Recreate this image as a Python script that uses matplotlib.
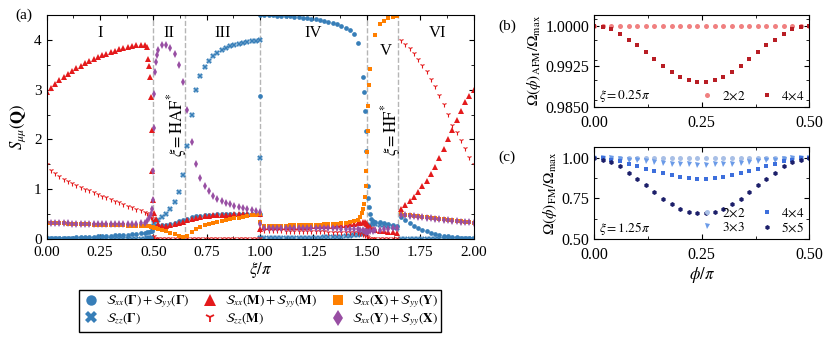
import numpy as np
import matplotlib
matplotlib.use('Agg')
import matplotlib.pyplot as plt
from matplotlib.ticker import MultipleLocator, FormatStrFormatter
from matplotlib.lines import Line2D

plt.rcParams['font.family'] = ['Liberation Serif', 'DejaVu Serif']
plt.rcParams['mathtext.fontset'] = 'stix'
plt.rcParams['font.size'] = 11
plt.rcParams['xtick.direction'] = 'in'
plt.rcParams['ytick.direction'] = 'in'
plt.rcParams['xtick.top'] = True
plt.rcParams['ytick.right'] = True

n = np.nan

# ---- panel (a) data: xi/pi sample points (denser near the transitions)
xi = np.concatenate([
    np.arange(0.0, 0.47, 0.02),
    [0.47, 0.475, 0.48, 0.485, 0.49, 0.493, 0.496, 0.498, 0.50, 0.502, 0.505, 0.508, 0.511, 0.515, 0.52],
    np.arange(0.54, 0.99, 0.02),
    [1.0, 1.0, 1.0],
    np.arange(1.02, 1.47, 0.02),
    [1.47, 1.475, 1.48, 1.485, 1.49, 1.495, 1.498, 1.50, 1.503, 1.507, 1.511, 1.515, 1.52, 1.53],
    np.arange(1.54, 1.65, 0.02),
    np.arange(1.66, 2.001, 0.02),
])

# S_xx(Gamma)+S_yy(Gamma)
s_gam = [0.01, 0.01, 0.01, 0.01, 0.02, 0.02, 0.02, 0.03, 0.03, 0.03, 0.04, 0.04, 0.05, 0.05, 0.06, 0.06,
         0.07, 0.07, 0.08, 0.08, 0.09, 0.10, 0.11, 0.12,
         0.13, n, 0.14, n, 0.15, n, 0.16, n, 0.22, n, 0.25, n, 0.26, n, 0.27,
         0.28, 0.29, 0.31, 0.33, 0.36, 0.39, 0.41, 0.44, 0.46, 0.47, 0.48, 0.49, 0.49, 0.50, 0.50, 0.50,
         0.50, 0.50, 0.50, 0.50, 0.50, 0.50, 0.50,
         0.50, 2.87, 4.50,
         4.50, 4.50, 4.50, 4.49, 4.49, 4.48, 4.48, 4.47, 4.46, 4.45, 4.44, 4.43, 4.42, 4.41, 4.39, 4.37,
         4.35, 4.32, 4.29, 4.25, 4.20, 4.12, 3.94,
         n, n, 3.25, 2.95, 2.58, 2.17, 1.76, n, 1.06, 0.83, 0.65, 0.50, 0.40, 0.36,
         0.35, 0.34, 0.32, 0.30, 0.28, 0.26,
         0.45, 0.38, 0.32, 0.27, 0.22, 0.18, 0.15, 0.12, 0.10, 0.08, 0.06, 0.05, 0.04, 0.03, 0.02, 0.015,
         0.01, 0.01]
# S_zz(Gamma)
s_gam_zz = [0.005, 0.005, 0.005, 0.005, 0.005, 0.005, 0.005, 0.005, 0.005, 0.005, 0.005, 0.005,
            0.005, 0.005, 0.005, 0.005, 0.005, 0.005, 0.005, 0.005, 0.005, 0.005, 0.005, 0.005,
            0.01, n, 0.01, n, 0.02, n, 0.02, n, 0.25, n, 0.33, n, 0.36, n, 0.38,
            0.44, 0.50, 0.60, 0.74, 0.94, 1.29, 1.86, 2.50, 3.00, 3.28, 3.46, 3.58, 3.67, 3.74, 3.79, 3.84,
            3.87, 3.90, 3.93, 3.95, 3.97, 3.98, 3.99,
            4.00, 1.62, 0.01,
            0.01, 0.01, 0.01, 0.01, 0.01, 0.01, 0.01, 0.01, 0.01, 0.02, 0.02, 0.02, 0.02, 0.02, 0.03, 0.03,
            0.03, 0.04, 0.04, 0.05, 0.06, 0.07, 0.08,
            0.09, n, 0.10, n, 0.12, n, n, 0.15, n, 0.22, n, 0.28, n, 0.30,
            0.30, 0.29, 0.28, 0.26, 0.24, 0.22,
            0.005, 0.005, 0.005, 0.005, 0.005, 0.005, 0.005, 0.005, 0.005, 0.005, 0.005, 0.005, 0.005,
            0.005, 0.005, 0.005, 0.005, 0.005]
# S_xx(M)+S_yy(M)
s_m = [2.95, 3.04, 3.12, 3.19, 3.26, 3.32, 3.38, 3.43, 3.48, 3.53, 3.57, 3.61, 3.65, 3.69, 3.72, 3.75,
       3.78, 3.81, 3.84, 3.86, 3.88, 3.90, 3.91, 3.89,
       3.86, 3.62, 3.47, 3.26, 2.86, 2.20, 1.36, n, 0.78, n, 0.52, n, 0.40, n, 0.30,
       0.27, 0.27, 0.28, 0.30, 0.32, 0.35, 0.38, 0.41, 0.43, 0.45, 0.46, 0.47, 0.48, 0.48, 0.49, 0.49,
       0.49, 0.50, 0.50, 0.50, 0.50, 0.50, 0.50,
       0.50, n, 0.20,
       0.24, 0.24, 0.24, 0.24, 0.24, 0.24, 0.25, 0.25, 0.25, 0.25, 0.25, 0.26, 0.26, 0.26, 0.27, 0.27,
       0.27, 0.28, 0.28, 0.29, 0.30, 0.31, 0.32,
       0.33, n, 0.35, n, 0.35, n, 0.32, 0.30, n, 0.27, n, 0.24, n, 0.20,
       0.18, 0.16, 0.15, 0.14, 0.13, 0.12,
       0.60, 0.68, 0.76, 0.85, 0.95, 1.06, 1.17, 1.30, 1.45, 1.62, 1.80, 2.00, 2.20, 2.39, 2.57, 2.75,
       2.87, 3.00]
# S_zz(M)
s_m_zz = [1.50, 1.39, 1.32, 1.26, 1.21, 1.17, 1.13, 1.09, 1.05, 1.01, 0.98, 0.94, 0.91, 0.87, 0.84, 0.80,
          0.77, 0.74, 0.70, 0.67, 0.64, 0.61, 0.58, 0.55,
          0.52, n, 0.48, n, 0.45, n, 0.42, n, 0.38, n, 0.05, n, 0.02, n, 0.01,
          0.01, 0.01, 0.01, 0.01, 0.01, 0.01, 0.01, 0.01, 0.01, 0.01, 0.01, 0.01, 0.01, 0.01, 0.01, 0.01,
          0.01, 0.01, 0.01, 0.01, 0.01, 0.01, 0.01,
          0.01, n, 0.17,
          0.17, 0.17, 0.17, 0.17, 0.17, 0.16, 0.16, 0.16, 0.16, 0.16, 0.15, 0.15, 0.15, 0.15, 0.15, 0.14,
          0.14, 0.14, 0.14, 0.13, 0.13, 0.13, 0.13,
          0.12, n, 0.10, n, 0.08, n, n, 0.05, n, 0.03, n, 0.02, n, 0.02,
          0.02, 0.02, 0.02, 0.02, 0.02, 0.02,
          4.00, 3.92, 3.83, 3.73, 3.62, 3.50, 3.37, 3.22, 3.07, 2.90, 2.72, 2.52, 2.30, 2.15, 1.98, 1.82,
          1.65, 1.50]
# S_xx(X)+S_yy(Y)
s_x = [0.33, 0.33, 0.32, 0.32, 0.32, 0.31, 0.31, 0.31, 0.30, 0.30, 0.30, 0.29, 0.29, 0.29, 0.29, 0.28,
       0.28, 0.28, 0.28, 0.27, 0.27, 0.27, 0.27, 0.26,
       0.26, n, 0.26, n, 0.25, n, 0.25, n, 0.23, n, 0.22, n, 0.21, n, 0.20,
       0.18, 0.15, 0.12, 0.09, 0.06, 0.03, 0.05, 0.13, 0.20, 0.25, 0.28, 0.31, 0.33, 0.35, 0.37, 0.39,
       0.40, 0.42, 0.43, 0.45, 0.46, 0.48, 0.49,
       0.50, n, 0.35,
       0.27, 0.27, 0.27, 0.27, 0.27, 0.27, 0.28, 0.28, 0.28, 0.28, 0.28, 0.29, 0.29, 0.29, 0.30, 0.30,
       0.31, 0.31, 0.32, 0.33, 0.34, 0.36, 0.38,
       0.45, 0.52, 0.60, 0.70, 0.85, 1.06, 1.36, 1.74, 2.17, 2.67, 3.09, 3.41, n, n,
       4.10, 4.32, 4.39, 4.44, 4.47, 4.49,
       0.50, 0.49, 0.48, 0.47, 0.46, 0.45, 0.44, 0.43, 0.42, 0.41, 0.40, 0.39, 0.38, 0.37, 0.36, 0.35,
       0.34, 0.33]
# S_xx(Y)+S_yy(X)
s_y = [0.34, 0.33, 0.33, 0.32, 0.32, 0.32, 0.31, 0.31, 0.31, 0.31, 0.30, 0.30, 0.30, 0.30, 0.30, 0.30,
       0.30, 0.30, 0.30, 0.30, 0.30, 0.31, 0.32, 0.33,
       0.36, n, 0.42, n, 0.50, n, 0.60, 0.79, 1.36, 2.24, 2.91, 3.35, 3.55, 3.70, 3.80,
       3.90, 3.90, 3.83, 3.72, 3.50, 3.15, 2.59, 1.95, 1.50, 1.22, 1.06, 0.96, 0.86, 0.80, 0.76, 0.73,
       0.70, 0.67, 0.64, 0.62, 0.60, 0.58, 0.56,
       0.54, n, 0.30,
       0.22, 0.22, 0.22, 0.22, 0.22, 0.22, 0.22, 0.22, 0.22, 0.22, 0.22, 0.21, 0.21, 0.21, 0.21, 0.21,
       0.21, 0.21, 0.20, 0.20, 0.20, 0.20, 0.19,
       0.18, n, 0.17, n, 0.15, n, 0.14, 0.13, n, 0.14, n, 0.15, n, 0.16,
       0.17, 0.18, 0.19, 0.20, 0.21, 0.22,
       0.49, 0.48, 0.47, 0.46, 0.45, 0.44, 0.43, 0.42, 0.41, 0.40, 0.39, 0.38, 0.37, 0.36, 0.35, 0.35,
       0.34, 0.33]

phase_lines = [0.5, 0.648, 1.0, 1.5, 1.648]
phase_names = ['I', 'II', 'III', 'IV', 'V', 'VI']
phase_name_x = [0.25, 0.575, 0.825, 1.25, 1.59, 1.83]
phase_name_y = [4.15, 4.15, 4.15, 4.15, 3.78, 4.15]

# ---- panels (b), (c): phi/pi
phi = np.arange(0.0, 0.501, 0.02)
afm_2x2 = [1.0, 1.0, 1.0, 1.0, 1.0, 1.0, 1.0, 1.0, 1.0, 1.0, 1.0, 1.0, 1.0,
           1.0, 1.0, 1.0, 1.0, 1.0, 1.0, 1.0, 1.0, 1.0, 1.0, 1.0, 1.0, 1.0]
afm_4x4 = [1.0, 0.9999, 0.9994, 0.9986, 0.9975, 0.9964, 0.9951, 0.9938, 0.9926, 0.9915, 0.9906, 0.9900, 0.9897,
           0.9897, 0.9900, 0.9906, 0.9915, 0.9926, 0.9938, 0.9951, 0.9964, 0.9975, 0.9986, 0.9994, 0.9999, 1.0]
fm_2x2 = [1.0, 1.0, 1.0, 1.0, 1.0, 1.0, 1.0, 1.0, 1.0, 1.0, 1.0, 1.0, 1.0,
          1.0, 1.0, 1.0, 1.0, 1.0, 1.0, 1.0, 1.0, 1.0, 1.0, 1.0, 1.0, 1.0]
fm_3x3 = [1.0, 1.0, 0.998, 0.995, 0.990, 0.985, 0.979, 0.974, 0.969, 0.965, 0.962, 0.960, 0.959,
          0.959, 0.960, 0.962, 0.965, 0.969, 0.974, 0.979, 0.985, 0.990, 0.995, 0.998, 1.0, 1.0]
fm_4x4 = [1.0, 0.998, 0.990, 0.979, 0.965, 0.949, 0.934, 0.921, 0.907, 0.894, 0.884, 0.876, 0.871,
          0.871, 0.876, 0.884, 0.894, 0.907, 0.921, 0.934, 0.949, 0.965, 0.979, 0.990, 0.998, 1.0]
fm_5x5 = [1.0, 0.990, 0.973, 0.949, 0.907, 0.870, 0.830, 0.788, 0.747, 0.716, 0.687, 0.669, 0.660,
          0.660, 0.669, 0.687, 0.716, 0.747, 0.788, 0.830, 0.870, 0.907, 0.949, 0.973, 0.990, 1.0]

blue, red, orange, purple = '#377eb8', '#e41a1c', '#ff7f00', '#984ea3'

fig = plt.figure(figsize=(8.31, 3.37), dpi=100)
ax = fig.add_axes([0.056, 0.291, 0.514, 0.664])
axb = fig.add_axes([0.715, 0.683, 0.259, 0.273])
axc = fig.add_axes([0.715, 0.291, 0.259, 0.273])

for v in phase_lines:
    ax.axvline(v, color='#b5b5b5', ls='--', lw=1.0, zorder=0)

ms = 3.4
series = [
    (s_gam, 'o', blue, ms, 0, r'$\mathcal{S}_{xx}(\mathbf{\Gamma})+\mathcal{S}_{yy}(\mathbf{\Gamma})$', 7.5, 0),
    (s_gam_zz, 'X', blue, ms + 0.6, 0, r'$\mathcal{S}_{zz}(\mathbf{\Gamma})$', 8, 0),
    (s_m, '^', red, ms + 0.4, 0, r'$\mathcal{S}_{xx}(\mathbf{M})+\mathcal{S}_{yy}(\mathbf{M})$', 8, 0),
    (s_m_zz, '1', red, 4.0, 0.8, r'$\mathcal{S}_{zz}(\mathbf{M})$', 7, 1.3),
    (s_x, 's', orange, ms, 0, r'$\mathcal{S}_{xx}(\mathbf{X})+\mathcal{S}_{yy}(\mathbf{Y})$', 7, 0),
    (s_y, 'd', purple, ms + 0.6, 0, r'$\mathcal{S}_{xx}(\mathbf{Y})+\mathcal{S}_{yy}(\mathbf{X})$', 8, 0),
]
handles = []
for vals, mk, col, size, mw, lab, lsize, lmw in series:
    ax.plot(xi, vals, mk, color=col, ms=size, mew=mw)
    handles.append(Line2D([], [], ls='', marker=mk, color=col, ms=lsize, mew=lmw, label=lab))

for name, x, y in zip(phase_names, phase_name_x, phase_name_y):
    ax.text(x, y, name, ha='center', va='center', fontsize=12)
ax.text(0.61, 2.3, r'$\xi=\mathrm{HAF}^{*}$', rotation=90, ha='center', va='center', fontsize=12)
ax.text(1.615, 2.2, r'$\xi=\mathrm{HF}^{*}$', rotation=90, ha='center', va='center', fontsize=12)

ax.set_xlim(0, 2)
ax.set_ylim(0, 4.5)
ax.xaxis.set_major_locator(MultipleLocator(0.25))
ax.xaxis.set_minor_locator(MultipleLocator(0.125))
ax.xaxis.set_major_formatter(FormatStrFormatter('%.2f'))
ax.yaxis.set_major_locator(MultipleLocator(1))
ax.yaxis.set_minor_locator(MultipleLocator(0.5))
ax.tick_params(which='both', top=True, right=True, labelsize=11)
ax.tick_params(axis='x', pad=5)
ax.set_xlabel(r'$\xi/\pi$', fontsize=12, labelpad=1)
ax.set_ylabel(r'$S_{\mu\mu}(\mathbf{Q})$', fontsize=12, labelpad=4)

fig.legend(handles=handles, ncol=3, loc='upper center', bbox_to_anchor=(0.313, 0.158), fontsize=9.5,
           frameon=True, fancybox=False, edgecolor='black', framealpha=1,
           handletextpad=0.4, columnspacing=0.9, borderpad=0.25, labelspacing=0.1, handlelength=1.4)

# (b)
axb.plot(phi, afm_2x2, 'o', color='#f08080', ms=3.6, mew=0, label=r'$2\!\times\!2$')
axb.plot(phi, afm_4x4, 's', color='#b81d24', ms=3.4, mew=0, label=r'$4\!\times\!4$')
axb.set_xlim(0, 0.5)
axb.set_ylim(0.985, 1.0021)
axb.set_yticks([0.985, 0.9925, 1.0])
axb.yaxis.set_minor_locator(MultipleLocator(0.00375))
axb.yaxis.set_major_formatter(FormatStrFormatter('%.4f'))
axb.set_ylabel(r'$\Omega(\phi)_{\rm AFM}/\Omega_{\rm max}$', fontsize=11, labelpad=2)
axb.text(0.012, 0.9855, r'$\xi=0.25\pi$', fontsize=9.5, va='bottom')
axb.legend(loc='lower right', ncol=2, fontsize=9.5, frameon=False, handletextpad=0.1,
           columnspacing=0.6, borderaxespad=0.1, borderpad=0.2)

# (c)
axc.plot(phi, fm_2x2, 'o', color='#a8bfe6', ms=3.6, mew=0, label=r'$2\!\times\!2$')
axc.plot(phi, fm_3x3, 'v', color='#6b9be8', ms=3.6, mew=0, label=r'$3\!\times\!3$')
axc.plot(phi, fm_4x4, 's', color='#3d6fdc', ms=3.4, mew=0, label=r'$4\!\times\!4$')
axc.plot(phi, fm_5x5, 'h', color='#1c1f6a', ms=3.6, mew=0, label=r'$5\!\times\!5$')
axc.set_xlim(0, 0.5)
axc.set_ylim(0.5, 1.068)
axc.set_yticks([0.5, 0.75, 1.0])
axc.yaxis.set_minor_locator(MultipleLocator(0.125))
axc.yaxis.set_major_formatter(FormatStrFormatter('%.2f'))
axc.set_ylabel(r'$\Omega(\phi)_{\rm FM}/\Omega_{\rm max}$', fontsize=11, labelpad=2)
axc.set_xlabel(r'$\phi/\pi$', fontsize=12, labelpad=1)
axc.text(0.012, 0.51, r'$\xi=1.25\pi$', fontsize=9.5, va='bottom')
axc.legend(loc='lower right', ncol=2, fontsize=9.5, frameon=False, handletextpad=0.1,
           columnspacing=0.6, borderaxespad=0.1, borderpad=0.2, labelspacing=0.1)

for a in (axb, axc):
    a.xaxis.set_major_locator(MultipleLocator(0.25))
    a.xaxis.set_minor_locator(MultipleLocator(0.125))
    a.xaxis.set_major_formatter(FormatStrFormatter('%.2f'))
    a.tick_params(which='both', top=True, right=True, labelsize=11.5)
    a.tick_params(axis='x', pad=6)

fig.text(15 / 831, 1 - 15 / 337, '(a)', fontsize=11, va='center')
fig.text(498 / 831, 1 - 26 / 337, '(b)', fontsize=11, va='center')
fig.text(498 / 831, 1 - 157 / 337, '(c)', fontsize=11, va='center')

fig.savefig('out.png', dpi=100)
